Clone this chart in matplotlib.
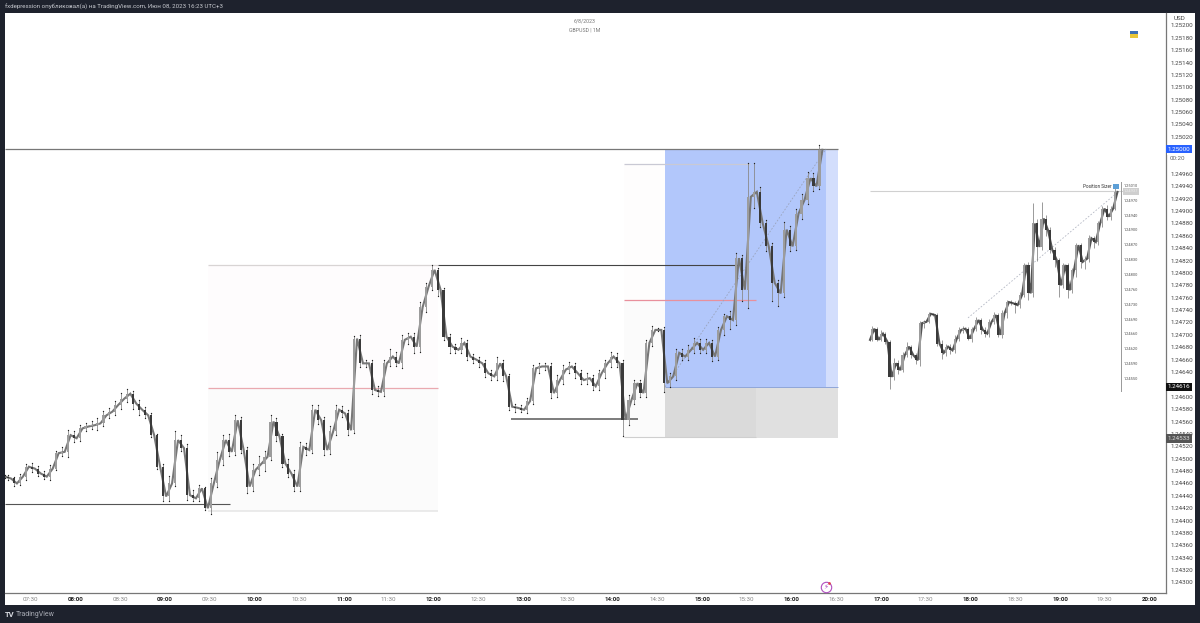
import matplotlib
matplotlib.use('Agg')
import matplotlib.pyplot as plt
from matplotlib.patches import Rectangle

plt.rcParams['font.family'] = ['Roboto', 'DejaVu Sans']

# main chart, one bar every 4 minutes
closes = [
    1.24471, 1.24468, 1.24460, 1.24471, 1.24487, 1.24484, 1.24476, 1.24471, 1.24484, 1.24509,
    1.24511, 1.24538, 1.24533, 1.24549, 1.24552, 1.24554, 1.24557, 1.24570, 1.24576, 1.24587,
    1.24597, 1.24605, 1.24589, 1.24579, 1.24570, 1.24538, 1.24487, 1.24439, 1.24460, 1.24530,
    1.24517, 1.24441, 1.24436, 1.24452, 1.24420, 1.24460, 1.24498, 1.24530, 1.24511, 1.24562,
    1.24514, 1.24455, 1.24482, 1.24492, 1.24503, 1.24560, 1.24536, 1.24492, 1.24476, 1.24455,
    1.24519, 1.24514, 1.24579, 1.24562, 1.24514, 1.24544, 1.24579, 1.24573, 1.24546, 1.24694,
    1.24654, 1.24654, 1.24611, 1.24608, 1.24654, 1.24665, 1.24654, 1.24692, 1.24697, 1.24681,
    1.24745, 1.24778, 1.24805, 1.24773, 1.24697, 1.24681, 1.24676, 1.24687, 1.24665, 1.24660,
    1.24654, 1.24638, 1.24633, 1.24654, 1.24633, 1.24584, 1.24582, 1.24579, 1.24593, 1.24646,
    1.24649, 1.24649, 1.24606, 1.24627, 1.24644, 1.24649, 1.24638, 1.24627, 1.24630, 1.24617,
    1.24638, 1.24654, 1.24665, 1.24654, 1.24563, 1.24595, 1.24622, 1.24606, 1.24687, 1.24708,
    1.24708, 1.24622, 1.24633, 1.24671, 1.24665, 1.24676, 1.24687, 1.24676, 1.24687, 1.24665,
    1.24708, 1.24730, 1.24724, 1.24824, 1.24773, 1.24923, 1.24931, 1.24880, 1.24843, 1.24784,
    1.24767, 1.24870, 1.24843, 1.24896, 1.24918, 1.24953, 1.24940, 1.24999,
]
wick_up = [
    2, 2, 2, 4, 5, 6, 4, 4, 5, 3,
    8, 9, 7, 6, 6, 7, 8, 7, 6, 6,
    9, 8, 5, 5, 4, 3, 2, 4, 12, 14,
    8, 6, 8, 6, 3, 8, 12, 9, 10, 8,
    6, 5, 10, 12, 10, 10, 5, 4, 8, 6,
    8, 6, 8, 7, 6, 8, 7, 6, 6, 4,
    6, 6, 5, 6, 6, 12, 8, 8, 6, 6,
    8, 6, 8, 3, 3, 4, 5, 8, 5, 4,
    5, 6, 5, 10, 6, 4, 5, 5, 5, 6,
    5, 5, 6, 8, 8, 7, 6, 5, 8, 5,
    5, 6, 8, 6, 5, 8, 5, 5, 4, 7,
    3, 4, 5, 6, 6, 8, 8, 6, 6, 5,
    5, 4, 8, 8, 5, 55, 47, 8, 6, 6,
    4, 12, 6, 8, 10, 10, 8, 8,
]
wick_down = [
    2, 3, 4, 3, 6, 6, 4, 4, 6, 3,
    5, 8, 6, 5, 5, 4, 8, 5, 5, 6,
    6, 6, 8, 8, 5, 3, 3, 8, 8, 4,
    5, 8, 4, 4, 3, 9, 6, 8, 6, 5,
    5, 10, 8, 8, 12, 5, 7, 6, 5, 8,
    8, 8, 5, 6, 8, 6, 6, 6, 8, 4,
    6, 6, 6, 6, 6, 5, 5, 7, 6, 10,
    8, 8, 6, 10, 5, 10, 5, 6, 6, 6,
    6, 6, 6, 6, 8, 6, 6, 3, 6, 5,
    8, 6, 8, 6, 6, 6, 8, 6, 7, 6,
    6, 7, 6, 6, 27, 8, 6, 6, 6, 5,
    2, 14, 6, 6, 6, 6, 6, 6, 6, 8,
    6, 8, 14, 8, 19, 30, 18, 6, 8, 30,
    21, 6, 8, 6, 8, 6, 8, 4,
]

# pasted smaller chart on the right
inset_closes = [
    1.24692, 1.24710, 1.24692, 1.24702, 1.24689, 1.24632, 1.24654, 1.24643, 1.24667, 1.24681,
    1.24667, 1.24659, 1.24719, 1.24721, 1.24734, 1.24732, 1.24686, 1.24671, 1.24681, 1.24675,
    1.24694, 1.24708, 1.24710, 1.24694, 1.24710, 1.24724, 1.24708, 1.24702, 1.24721, 1.24732,
    1.24700, 1.24735, 1.24753, 1.24751, 1.24748, 1.24764, 1.24813, 1.24767, 1.24880, 1.24842,
    1.24888, 1.24869, 1.24837, 1.24821, 1.24780, 1.24813, 1.24772, 1.24805, 1.24845, 1.24818,
    1.24823, 1.24856, 1.24850, 1.24880, 1.24904, 1.24891, 1.24904, 1.24931,
]
inset_up = [
    3, 4, 2, 6, 3, 3, 8, 5, 6, 8,
    3, 4, 4, 3, 3, 2, 3, 6, 5, 4,
    5, 5, 5, 3, 3, 5, 3, 5, 4, 5,
    3, 5, 3, 3, 4, 6, 3, 5, 33, 8,
    27, 6, 6, 5, 3, 3, 3, 3, 3, 4,
    4, 5, 3, 4, 4, 6, 5, 6,
]
inset_down = [
    2, 2, 2, 2, 3, 19, 5, 6, 3, 3,
    5, 6, 10, 8, 2, 2, 4, 10, 5, 6,
    5, 4, 5, 3, 5, 4, 6, 5, 5, 4,
    4, 5, 8, 3, 12, 5, 3, 10, 5, 22,
    5, 10, 5, 12, 18, 4, 12, 5, 12, 10,
    12, 6, 10, 4, 5, 6, 6, 3,
]

price_ticks = [1.243 + i * 0.0002 for i in range(46)]
hidden_ticks = ['1.25000', '1.24980', '1.24620']
price_labels = ['' if f'{p:.5f}' in hidden_ticks else f'{p:.5f}' for p in price_ticks]
time_ticks = [7.5 + i * 0.5 for i in range(26)]
time_labels = [f'{int(t):02d}:{"00" if t == int(t) else "30"}' for t in time_ticks]
# the pasted chart keeps its own scale, so its labels do not line up with the main one
inset_labels = ['1.25010', '1.24970', '1.24940', '1.24900', '1.24870', '1.24830', '1.24800',
                '1.24760', '1.24730', '1.24690', '1.24660', '1.24620', '1.24590', '1.24550']

W, H = 1200, 623
DARK = '#1e222d'

fig = plt.figure(figsize=(W / 100, H / 100), dpi=100, facecolor=DARK)
# white strip under the price and time scales
fig.patches.append(Rectangle((5 / W, 1 - 605 / H), 1190 / W, 592 / H, transform=fig.transFigure,
                             facecolor='white', edgecolor='none', zorder=-1))
ax = fig.add_axes([5 / W, 1 - 593 / H, 1161 / W, 580 / H])
ax.set_xlim(7.2123, 20.1844)
ax.set_ylim(1.24283, 1.25220)


def px_t(px):
    return 8 + (px - 75.5) / 89.5


def px_p(py):
    return 1.24595 + (400 - py) * 0.00001615


def box(x0, x1, y0, y1, color, z=1):
    ax.add_patch(Rectangle((px_t(x0), px_p(y1)), px_t(x1) - px_t(x0), px_p(y0) - px_p(y1),
                           facecolor=color, edgecolor='none', zorder=z))


def hline(py, x0, x1, color, lw=1.0, z=2):
    ax.plot([px_t(x0), px_t(x1)], [px_p(py), px_p(py)], color=color, lw=lw, zorder=z,
            solid_capstyle='butt')


# drawing tool regions
box(208, 438, 265, 388, '#fefcfd')
box(208, 438, 388, 511, '#fbfbfb')
box(624, 665, 164, 300, '#fefdfd')
box(624, 665, 300, 437, '#fbfbfb')
box(665, 826, 149, 387, '#b2c7fb')
box(826, 838, 149, 387, '#d3defc')
box(665, 756, 387, 438, '#dadada')
box(756, 838, 387, 438, '#e0e0e0')

hline(149, 5, 838, '#777777', 0.9)
hline(265.5, 208, 438, '#d8d4d4', 0.9)
hline(388, 208, 438, '#eaa9b0', 0.9)
hline(511, 208, 438, '#e6e6e6', 1.1)
hline(504.5, 5, 230, '#555555', 0.8)
hline(265.5, 438, 738, '#444444', 0.8)
hline(419, 511, 638, '#666666', 1.2)
hline(164, 624, 750, '#c9c9d4', 0.9)
hline(300, 624, 756, '#e8909c', 0.9)
hline(437, 624, 756, '#cfcfcf', 0.8)
hline(387, 665, 838, '#8fa6d8', 0.7)
ax.plot([px_t(665), px_t(826)], [px_p(387), px_p(149)], color='#9aa4bd', lw=0.6, ls=(0, (2, 2)), zorder=2)


def candles(times, close, up, down, width, line_color, dots=True):
    dt = times[1] - times[0]
    # bar sits between the two closes it joins, so the line runs through it
    xs = [times[0]] + [t - dt / 2 for t in times[1:]]
    opens = [close[0]] + list(close[:-1])
    highs = [max(o, c) + u / 1e5 for o, c, u in zip(opens, close, up)]
    lows = [min(o, c) - d / 1e5 for o, c, d in zip(opens, close, down)]
    ax.vlines(xs, lows, highs, color='#8a8a8a', lw=0.6, zorder=3)
    ax.plot(times, close, color=line_color, lw=1.5, zorder=3, solid_joinstyle='miter')
    colors = ['#9c9c9c' if c >= o else '#3a3a3a' for o, c in zip(opens, close)]
    bottoms = [min(o, c) for o, c in zip(opens, close)]
    heights = [abs(c - o) for o, c in zip(opens, close)]
    ax.bar(xs, heights, width=width, bottom=bottoms, color=colors, edgecolor='none', zorder=4)
    if dots:
        ax.scatter(xs, highs, s=0.9, color='#222222', linewidths=0, zorder=5)
        ax.scatter(xs, lows, s=0.9, color='#222222', linewidths=0, zorder=5)


bar_times = [px_t(5) + i / 15 for i in range(len(closes))]
candles(bar_times, closes, wick_up, wick_down, 0.024, '#777777')

inset_step = (px_t(1117.5) - px_t(870)) / (len(inset_closes) - 1)
inset_times = [px_t(870) + i * inset_step for i in range(len(inset_closes))]
candles(inset_times, inset_closes, inset_up, inset_down, 0.024, '#555555', dots=False)

# inset furniture
hline(191.5, 870, 1125, '#d0d0d0', 0.8)
ax.plot([px_t(968), px_t(1118)], [px_p(318), px_p(192)], color='#b4b8c4', lw=0.6, ls=(0, (2, 2)), zorder=2)
ax.plot([px_t(1121), px_t(1121)], [px_p(182), px_p(391)], color='#999999', lw=0.7, zorder=2)
for i, lab in enumerate(inset_labels):
    ax.text(px_t(1124), px_p(186 + i * 14.85), lab, fontsize=2.9, color='#555555', va='center', ha='left', zorder=6)
box(1123, 1139, 188, 195, '#cfcfcf', 5)
ax.text(px_t(1131), px_p(191.5), '1.24937', fontsize=2.9, color='#eeeeee', va='center', ha='center', zorder=6)
ax.text(px_t(1112), px_p(186.5), 'Position Sizer', fontsize=3.3, color='#333333', va='center', ha='right', zorder=6)
box(1113.5, 1119, 184, 189, '#5d9fd6', 6)

# header text on the chart
ax.text(px_t(585), px_p(21), '6/8/2023', fontsize=3.8, color='#777777', ha='center', va='center')
ax.text(px_t(585), px_p(30), 'GBPUSD | 1M', fontsize=3.8, color='#777777', ha='center', va='center')

# flag
box(1130, 1138, 31, 34.5, '#3d6fb5', 6)
box(1130, 1138, 34.5, 38, '#e8c63a', 6)

# replay badge
ax.plot([px_t(826)], [px_p(587)], marker='o', ms=7.5, mfc='white', mec='#b04fc0', mew=0.8, zorder=6)
ax.text(px_t(826), px_p(587), '\u26a1', fontsize=5, color='#b04fc0', ha='center', va='center', zorder=7,
        family='DejaVu Sans')
ax.plot([px_t(829.5)], [px_p(583.5)], marker='o', ms=2, color='#e0414f', mew=0, zorder=7)

# axes
ax.set_facecolor('white')
ax.yaxis.tick_right()
ax.set_yticks(price_ticks, price_labels)
ax.set_xticks(time_ticks, time_labels)
ax.tick_params(axis='y', length=0, pad=3.5, labelsize=4.5, labelcolor='#444444')
ax.tick_params(axis='x', length=0, pad=3, labelsize=4.5)
for t, lab in zip(time_ticks, ax.get_xticklabels()):
    if t == int(t):
        lab.set_fontweight('bold')
        lab.set_color('#222222')
    else:
        lab.set_color('#888888')
for side in ['top', 'left']:
    ax.spines[side].set_visible(False)
for side in ['right', 'bottom']:
    ax.spines[side].set_color('#777777')
    ax.spines[side].set_linewidth(0.9)

# price tags on the scale
tag_x = 1 + 13 / 1161
trans = ax.get_yaxis_transform()
for price, face, col in [(1.25000, '#2962ff', 'white'), (1.24616, '#111111', 'white'), (1.24533, '#555555', '#dddddd')]:
    ax.text(tag_x, price, f'{price:.5f}', transform=trans, fontsize=4.5, color=col, ha='center', va='center',
            zorder=8, clip_on=False,
            bbox=dict(boxstyle='square,pad=0.28', facecolor=face, edgecolor='none'))
ax.text(tag_x, px_p(152), '1.24994', transform=trans, fontsize=4.5, color='#444444', ha='center', va='center',
        clip_on=False, bbox=dict(boxstyle='square,pad=0.05', facecolor='white', edgecolor='none'), zorder=7)
ax.text(1 + 11 / 1161, px_p(158.5), '00:20', transform=trans, fontsize=4.5, color='#666666', ha='center', va='center',
        clip_on=False, bbox=dict(boxstyle='square,pad=0.05', facecolor='white', edgecolor='none'), zorder=7)
ax.text(tag_x, px_p(19), 'USD', transform=trans, fontsize=4.5, color='#444444', ha='center', va='center',
        clip_on=False, zorder=8, bbox=dict(boxstyle='square,pad=0.1', facecolor='white', edgecolor='none'))

fig.text(5 / W, 1 - 7 / H, 'fxdepression опубликовал(а) на TradingView.com, Июн 08, 2023 16:23 UTC+3',
         fontsize=4.4, color='#c8cad0', va='center', ha='left')
fig.text(5 / W, 1 - 614.5 / H, 'TV', fontsize=5.5, color='#d8dae0', fontweight='bold', va='center', ha='left')
fig.text(16 / W, 1 - 614.5 / H, 'TradingView', fontsize=5, color='#a8abb4', va='center', ha='left')

fig.savefig('out.png', dpi=100, facecolor=DARK)
